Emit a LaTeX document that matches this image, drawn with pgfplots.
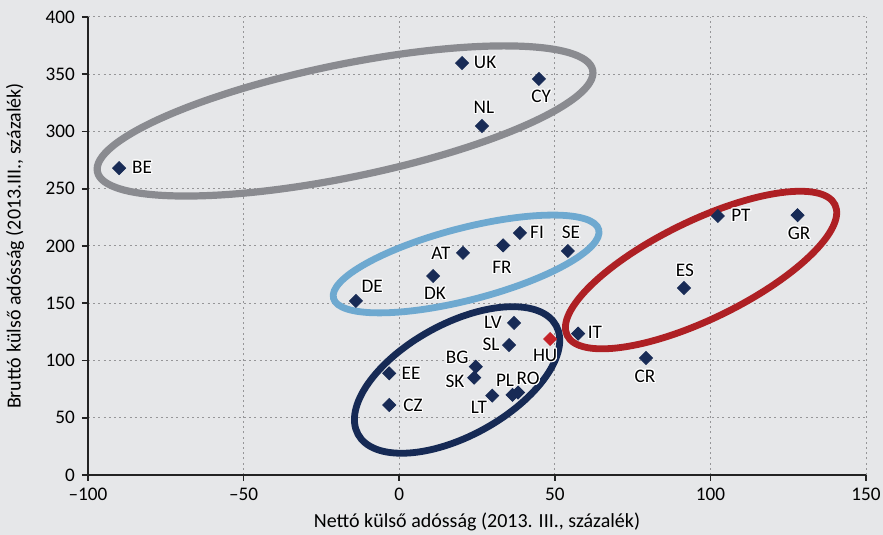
\documentclass[border=0pt]{standalone}
\usepackage{fontspec}
\setmainfont{Carlito}
\usepackage{pgfplots}
\pgfplotsset{compat=1.18}
\usepackage{contour}
\contourlength{0.6pt}

\definecolor{bg}{RGB}{230,231,233}
\definecolor{gridc}{RGB}{150,150,152}
\definecolor{axisc}{RGB}{35,35,35}
\definecolor{navy}{RGB}{24,43,86}
\definecolor{hured}{RGB}{196,34,40}
\definecolor{elgray}{RGB}{138,139,144}
\definecolor{elblue}{RGB}{110,169,208}
\definecolor{elnavy}{RGB}{22,42,85}
\definecolor{elred}{RGB}{174,32,36}

\newcommand{\lbl}{\fontsize{9.6}{11}\selectfont}
\newcommand{\cl}[3]{\node[font=\lbl, inner sep=0pt] at (axis cs:#1,#2) {\contour{white}{#3}};}

\begin{document}
\begin{tikzpicture}
\fill[bg] (-44pt,-30pt) rectangle (397.5pt,237.5pt);
\begin{axis}[
    at={(0,0)}, anchor=south west,
    scale only axis, width=389pt, height=229pt,
    xmin=-100, xmax=150, ymin=0, ymax=400,
    axis x line=bottom, axis y line=left,
    axis line style={-, line width=1pt, axisc},
    tick style={line width=0.8pt, axisc},
    tick align=outside, major tick length=3pt,
    xtick={-100,-50,0,50,100,150},
    xticklabels={\mbox{\textendash100},\mbox{\textendash50},0,50,100,150},
    ytick={0,50,...,400},
    /pgf/number format/assume math mode=true,
    grid=major,
    major grid style={gridc, line width=0.5pt, dash pattern=on 1pt off 1.6pt},
    tick label style={font=\lbl, text=black},
    label style={font=\lbl, text=black!85},
    every axis x label/.style={at={(axis description cs:0.5,-0.1026)}, anchor=center},
    every axis y label/.style={at={(axis description cs:-0.0938,0.5)}, rotate=90, anchor=center},
    xlabel={Nettó külső adósság (2013. III., százalék)},
    ylabel={Bruttó külső adósság (2013.III., százalék)},
    clip=false,
]
% ellipses
\draw[elgray, line width=3.6pt, rotate around={11.6:(axis cs:-17.4,309.2)}] (axis cs:-17.4,309.2) ellipse [x radius=126.4pt, y radius=28.2pt];
\draw[elblue, line width=3.4pt, rotate around={14.5:(axis cs:21.5,184.3)}] (axis cs:21.5,184.3) ellipse [x radius=68.5pt, y radius=18pt];
\draw[elred, line width=3.4pt, rotate around={26:(axis cs:97.0,179.0)}] (axis cs:97.0,179.0) ellipse [x radius=74.5pt, y radius=24.5pt];
\draw[elnavy, line width=3.4pt, rotate around={28.8:(axis cs:18.6,83.0)}] (axis cs:18.6,83.0) ellipse [x radius=56.5pt, y radius=28pt];

\addplot[only marks, mark=square*, mark size=2.3pt, navy,
    mark options={rotate=45}] coordinates {
    (-90.0,268.0) (20.2,359.8) (44.9,345.9) (26.6,304.8)
    (-13.9,152.0) (10.9,173.8) (20.5,194.0) (33.4,200.5) (38.8,211.4) (54.2,195.6)
    (102.4,226.2) (128.0,226.9) (91.5,163.3) (57.5,123.5) (79.3,102.2)
    (36.9,132.8) (35.3,113.5) (24.6,94.6) (24.1,85.0) (-3.2,88.8) (-3.2,61.1)
    (29.9,69.3) (36.4,70.0) (38.2,72.0)
};
\addplot[only marks, mark=square*, mark size=2.3pt, hured,
    mark options={rotate=45}] coordinates {(48.5,118.8)};

\cl{-82.6}{268.1}{BE}
\cl{27.6}{359.8}{UK}
\cl{45.6}{330.1}{CY}
\cl{27.2}{320.5}{NL}
\cl{-8.7}{164.2}{DE}
\cl{11.5}{158.1}{DK}
\cl{13.4}{193.0}{AT}
\cl{33.0}{180.8}{FR}
\cl{44.3}{211.4}{FI}
\cl{55.2}{211.4}{SE}
\cl{109.8}{226.2}{PT}
\cl{128.5}{210.5}{GR}
\cl{91.8}{178.2}{ES}
\cl{62.9}{124.0}{IT}
\cl{79.0}{85.6}{CR}
\cl{46.9}{103.9}{HU}
\cl{30.1}{132.8}{LV}
\cl{29.5}{113.5}{SL}
\cl{18.6}{102.2}{BG}
\cl{17.9}{81.2}{SK}
\cl{3.8}{88.2}{EE}
\cl{4.4}{60.3}{CZ}
\cl{25.6}{58.5}{LT}
\cl{34.0}{82.1}{PL}
\cl{41.4}{83.8}{RO}
\end{axis}
\pgfresetboundingbox
\path (-44pt,-30pt) rectangle (397.5pt,237.5pt);
\end{tikzpicture}
\end{document}
